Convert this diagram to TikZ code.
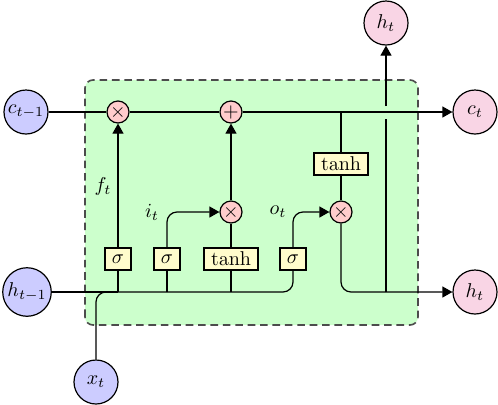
\documentclass[tikz,border=0pt]{standalone}
\usepackage{amsmath}
\usepackage{amssymb}
\usepackage{tikz}
\usetikzlibrary{arrows.meta, positioning}

\definecolor{outpink}{RGB}{249,213,229}

\begin{document}
\begin{tikzpicture}[
			x=1pt, y=1pt,
			line width=0.6pt,
			>={Triangle[length=5pt,width=5.5pt]},
			every node/.style={inner sep=1pt},
			io/.style={draw, circle, minimum size=22pt},
			inp/.style={io, fill=blue!20},
			outp/.style={io, fill=outpink},
			op/.style={draw, circle, fill=red!20, minimum size=11pt, inner sep=0pt},
			gate/.style={draw, fill=yellow!20, minimum height=11pt, minimum width=12.5pt, inner xsep=3.5pt},
			cellbox/.style={draw=black!70, line width=0.8pt, dash pattern=on 3.8pt off 2.4pt, fill=green!20, rounded corners=4pt}
			]
			\useasboundingbox (0,0) rectangle (249,202);
			
			% the cell
			\draw[cellbox] (42.5,39.5) rectangle (209,162);
			
			% inputs and outputs
			\node[inp] (cprev) at (13,146) {$c_{t-1}$};
			\node[inp] (hprev) at (13.5,56) {$h_{t-1}$};
			\node[inp] (xt) at (48,11) {$x_t$};
			\node[outp] (ct) at (237.5,146) {$c_t$};
			\node[outp] (hout) at (237.5,56) {$h_t$};
			\node[outp] (htop) at (193,190.5) {$h_t$};
			
			% pointwise operations
			\node[op] (mulf) at (59,146) {$\times$};
			\node[op] (add) at (115.5,146) {$+$};
			\node[op] (muli) at (115.5,96) {$\times$};
			\node[op] (mulo) at (170.5,96) {$\times$};
			
			% layers
			\node[gate] (sigf) at (59,72.5) {$\sigma$};
			\node[gate] (sigi) at (83.5,72.5) {$\sigma$};
			\node[gate] (tanhi) at (115.5,72.5) {$\tanh$};
			\node[gate] (sigo) at (146.5,72.5) {$\sigma$};
			\node[gate] (tanhc) at (170.5,120) {$\tanh$};
			
			% gate labels
			\node (ft) at (51.5,109) {$f_t$};
			\node (it) at (76,96) {$i_t$};
			\node (ot) at (139,96) {$o_t$};
			
			% gap where h_t crosses the cell state
			\coordinate (gapl) at (193,142.5);
			\coordinate (gapu) at (193,149);
			
			% output h_t upwards
			\draw (htop |- hout) -- (gapl);
			\draw[->] (gapu) -- (htop);
			
			% cell state
			\draw[->] (cprev) -- (mulf) -- (add) -- (ct);
			
			% h_{t-1} and x_t
			\draw (hprev) -- (sigf |- hprev);
			\draw[rounded corners=5pt] (xt) |- (sigo |- hprev) -- (sigo);
			
			% forget gate
			\draw (sigf |- hprev) -- (sigf);
			\draw[->] (sigf) -- (mulf);
			
			% input gate
			\draw (sigi |- hprev) -- (sigi);
			\draw[->, rounded corners=5pt] (sigi) |- (muli);
			\draw (tanhi |- hprev) -- (tanhi);
			\draw (tanhi) -- (muli);
			\draw[->] (muli) -- (add);
			
			% output gate
			\draw[->, rounded corners=5pt] (sigo) |- (mulo);
			\draw (tanhc |- add) -- (tanhc);
			\draw (tanhc) -- (mulo);
			\draw[->, rounded corners=5pt] (mulo) |- (hout);
		\end{tikzpicture}
\end{document}
